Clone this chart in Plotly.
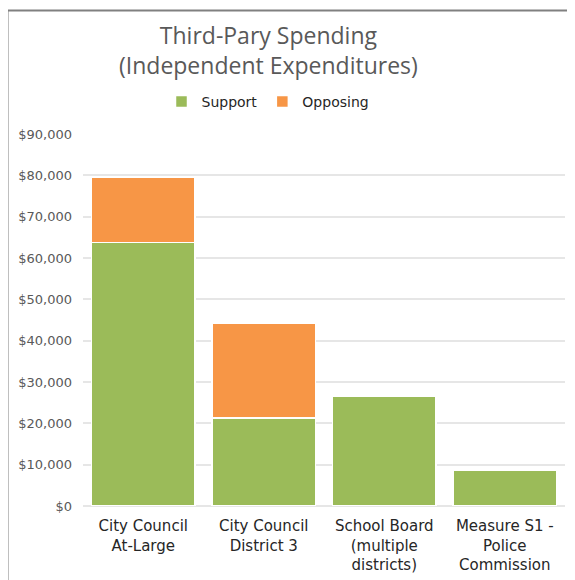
import plotly.graph_objects as go

categories = ["City Council<br>At-Large", "City Council<br>District 3",
              "School Board<br>(multiple<br>districts)", "Measure S1 -<br>Police<br>Commission"]
support = [63800, 21300, 26600, 8750]
opposing = [15800, 22800, 0, 0]
tick_vals = [0, 10000, 20000, 30000, 40000, 50000, 60000, 70000, 80000, 90000]
tick_text = ["$0", "$10,000", "$20,000", "$30,000", "$40,000", "$50,000",
             "$60,000", "$70,000", "$80,000", "$90,000"]

FONT = "DejaVu Sans"
TFONT = "Open Sans"
OFF = 8  # page body margin
W, H = 575 - OFF, 580 - OFF
# plot area in page pixels: x 83..565, y 134..506
ML, MT = 83 - OFF, 134 - OFF
MR, MB = 575 - 565, 580 - 506
PW = W - ML - MR
PH = H - MT - MB

def px_x(x):
    return (x - OFF - ML) / PW

def px_y(y):
    return (H - MB - (y - OFF)) / PH

fig = go.Figure()
fig.add_trace(go.Bar(x=categories, y=support, name="Support",
                     marker=dict(color="#9BBB59", line=dict(color="white", width=1.5))))
fig.add_trace(go.Bar(x=categories, y=opposing, name="Opposing",
                     marker=dict(color="#F79646", line=dict(color="white", width=1.5))))

fig.update_layout(
    width=W, height=H,
    barmode="stack", bargap=0.145,
    paper_bgcolor="white", plot_bgcolor="white",
    margin=dict(l=ML, r=MR, t=MT, b=MB, autoexpand=False),
    font=dict(family=FONT, color="#595959"),
    showlegend=True,
    legend=dict(orientation="h", x=px_x(268), xanchor="center", y=px_y(102), yanchor="middle",
                font=dict(size=14, color="#262626"), traceorder="normal",
                itemwidth=30, bgcolor="rgba(0,0,0,0)"),
    xaxis=dict(tickfont=dict(size=15, color="#262626"), showgrid=False,
               showline=False, ticks="", ticklabelstandoff=9),
    yaxis=dict(range=[0, 90000], tickvals=tick_vals, ticktext=tick_text,
               tickfont=dict(size=13, color="#595959"), showgrid=True,
               gridcolor="#e6e6e6", gridwidth=1.5, zeroline=True,
               zerolinecolor="#e6e6e6", zerolinewidth=1.5, ticks="",
               ticklabelstandoff=10),
)

fig.add_annotation(text="Third-Pary Spending<br>(Independent Expenditures)",
                   x=px_x(268), y=px_y(50), xref="paper", yref="paper",
                   xanchor="center", yanchor="middle", showarrow=False,
                   font=dict(family=TFONT, size=23, color="#595959"))

fig.add_shape(type="rect", xref="paper", yref="paper",
              x0=px_x(7.5), y0=px_y(700), x1=px_x(700), y1=px_y(10.5),
              line=dict(color="#808080", width=2), fillcolor="rgba(0,0,0,0)", layer="above")

fig.write_html("out.html")
